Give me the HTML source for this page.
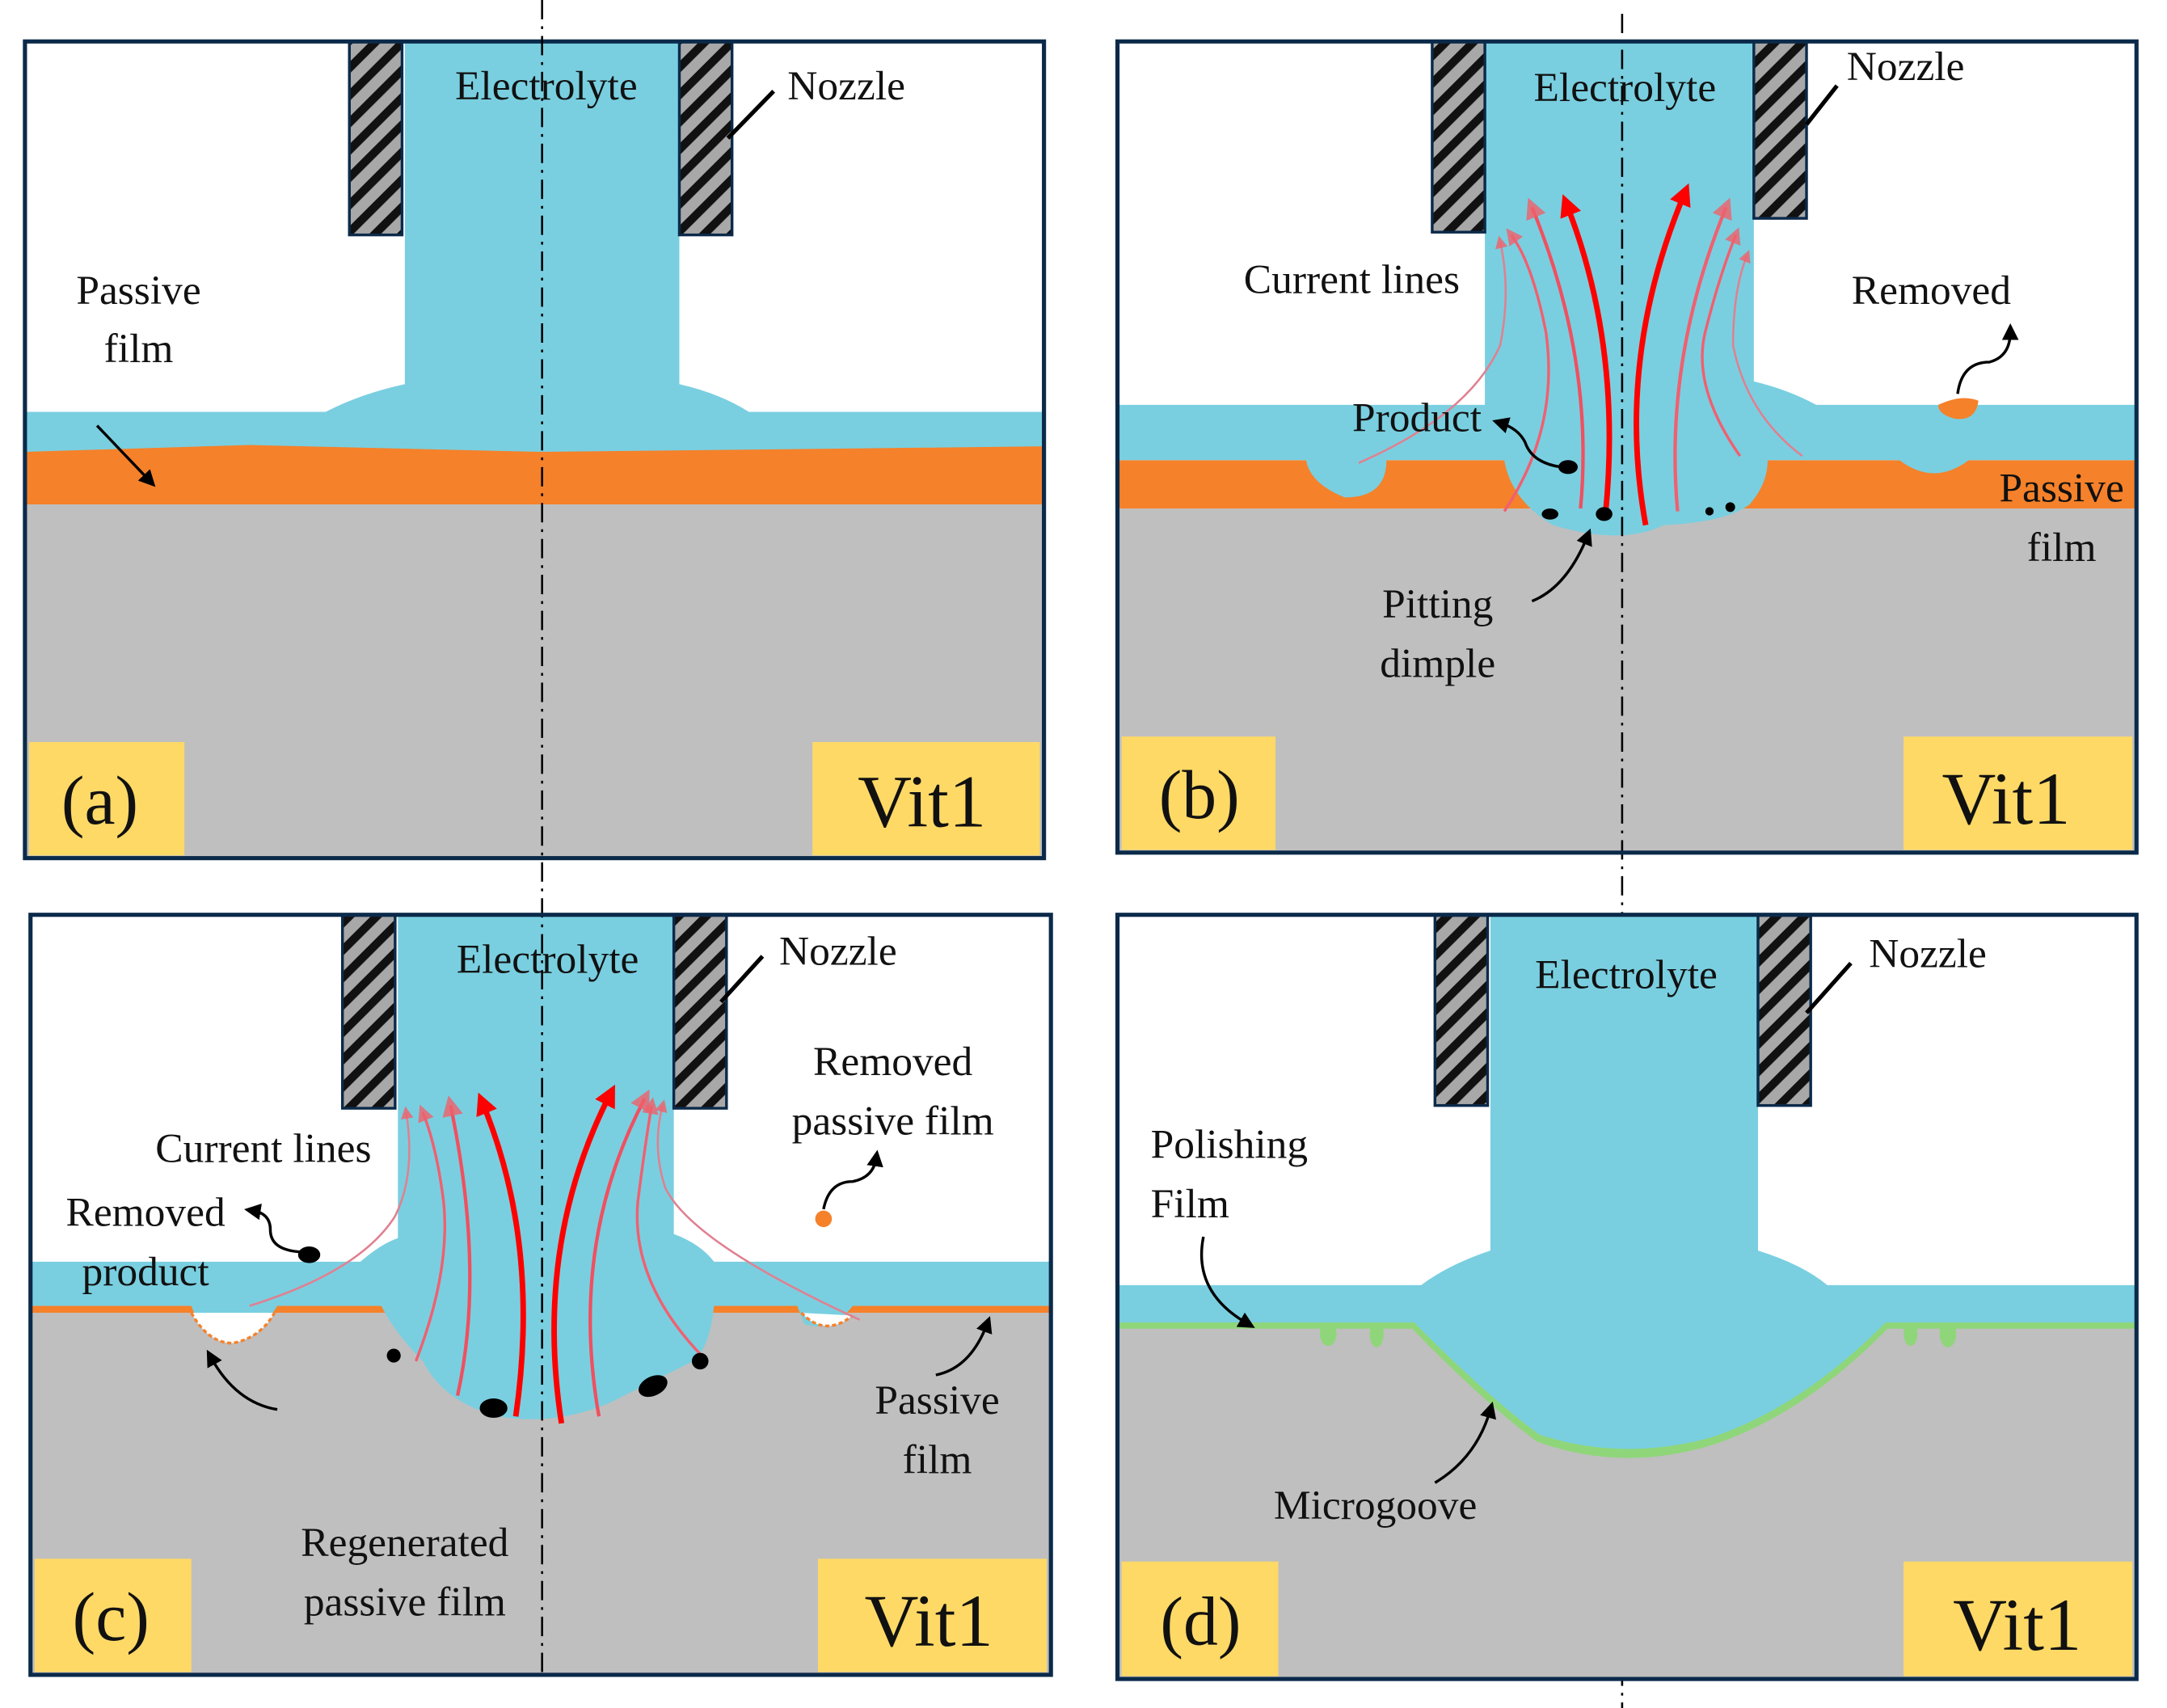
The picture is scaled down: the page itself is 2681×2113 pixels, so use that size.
<!DOCTYPE html>
<html><head><meta charset="utf-8"><style>
html,body{margin:0;padding:0;background:#fff}
svg{display:block}
text{font-family:"Liberation Serif","DejaVu Serif",serif;fill:#111}
</style></head><body>
<svg width="2681" height="2113" viewBox="0 0 1563 1236" preserveAspectRatio="none" xmlns="http://www.w3.org/2000/svg" font-family="'Liberation Serif', 'DejaVu Serif', serif">
<defs>
<pattern id="h" patternUnits="userSpaceOnUse" width="14" height="14" patternTransform="rotate(-45)">
<rect width="14" height="14" fill="#a8a8a8"/><rect width="14" height="6" fill="#111"/>
</pattern>
<marker id="ar" viewBox="0 0 10 10" refX="5" refY="5" markerWidth="4" markerHeight="4" orient="auto"><path d="M0,0L10,5L0,10z" fill="#f00"/></marker>
<marker id="ap" viewBox="0 0 10 10" refX="5" refY="5" markerWidth="6" markerHeight="6" orient="auto"><path d="M0,0L10,5L0,10z" fill="#f0606a" opacity="0.8"/></marker>
<marker id="ak" viewBox="0 0 10 10" refX="5" refY="5" markerWidth="6" markerHeight="6" orient="auto"><path d="M0,0L10,5L0,10z" fill="#000"/></marker>
</defs>
<rect width="1563" height="1236" fill="#fff"/>

<!-- Panel a -->
<g>
<rect x="18" y="30" width="735" height="591" fill="#fff"/>
<rect x="18" y="365" width="735" height="256" fill="#bfbfbf"/>
<path d="M18,320 L180,320 L390,325 L753,321 L753,365 L18,365Z" fill="#f5812a"/>
<path d="M18,298 L235,298 Q260,285 292,278 L292,30 L490,30 L490,278 Q520,285 540,298 L753,298 L753,323 L390,327 L180,322 L18,327Z" fill="#79cfe0"/>
<rect x="252" y="30" width="38" height="140" fill="url(#h)" stroke="#0b2a4a" stroke-width="2"/>
<rect x="490" y="30" width="38" height="140" fill="url(#h)" stroke="#0b2a4a" stroke-width="2"/>
<rect x="18" y="30" width="735" height="591" fill="none" stroke="#0b2a4a" stroke-width="3"/>
<rect x="21" y="537" width="112" height="82" fill="#ffd966"/>
<rect x="586" y="537" width="164" height="82" fill="#ffd966"/>
<text x="72" y="596" font-size="50" text-anchor="middle">(a)</text>
<text x="665" y="598" font-size="54" text-anchor="middle">Vit1</text>
<text x="394" y="72" font-size="30" text-anchor="middle">Electrolyte</text>
<text x="568" y="72" font-size="30">Nozzle</text>
<line x1="525" y1="100" x2="558" y2="66" stroke="#000" stroke-width="3"/>
<text x="100" y="220" font-size="30" text-anchor="middle">Passive</text>
<text x="100" y="262" font-size="30" text-anchor="middle">film</text>
<line x1="70" y1="308" x2="108" y2="348" stroke="#000" stroke-width="2" marker-end="url(#ak)"/>
</g>

<!-- Panel b -->
<g>
<rect x="806" y="368" width="735" height="249" fill="#bfbfbf"/>
<rect x="806" y="333" width="735" height="35" fill="#f5812a"/>
<path d="M806,293 L1071,293 L1071,30 L1265,30 L1265,276 Q1290,282 1310,293 L1541,293 L1541,333 L1420,333 Q1395,352 1370,333 L1275,333 Q1275,350 1262,365 Q1245,378 1200,380 Q1170,395 1120,380 Q1090,362 1085,333 L1000,333 Q1000,360 970,360 Q945,350 942,333 L806,333Z" fill="#79cfe0"/>
<rect x="1033" y="30" width="38" height="138" fill="url(#h)" stroke="#0b2a4a" stroke-width="2"/>
<rect x="1265" y="30" width="38" height="128" fill="url(#h)" stroke="#0b2a4a" stroke-width="2"/>
<g fill="none">
<path d="M980,335 Q1060,300 1082,250 Q1090,210 1082,175" stroke="#e08090" stroke-width="1.5" marker-end="url(#ap)"/>
<path d="M1085,370 Q1125,310 1115,240 Q1105,190 1090,170" stroke="#f06070" stroke-width="2" marker-end="url(#ap)"/>
<path d="M1140,368 Q1150,260 1105,150" stroke="#f05060" stroke-width="2.5" marker-end="url(#ap)"/>
<path d="M1158,372 Q1170,250 1130,148" stroke="#f00" stroke-width="4" marker-end="url(#ar)"/>
<path d="M1187,380 Q1165,260 1215,140" stroke="#f00" stroke-width="4" marker-end="url(#ar)"/>
<path d="M1210,370 Q1200,260 1245,150" stroke="#f06070" stroke-width="2.5" marker-end="url(#ap)"/>
<path d="M1255,330 Q1220,280 1230,240 Q1240,200 1252,170" stroke="#f06070" stroke-width="2" marker-end="url(#ap)"/>
<path d="M1300,330 Q1260,300 1250,250 Q1250,210 1260,185" stroke="#e08090" stroke-width="1.5" marker-end="url(#ap)"/>
</g>
<ellipse cx="1131" cy="338" rx="7" ry="5" fill="#000"/>
<ellipse cx="1118" cy="372" rx="6" ry="4" fill="#000"/>
<ellipse cx="1157" cy="372" rx="6" ry="5" fill="#000"/>
<circle cx="1233" cy="370" r="3" fill="#000"/><circle cx="1248" cy="367" r="3.5" fill="#000"/>
<path d="M1398,293 Q1415,285 1427,290 Q1425,305 1410,303 Q1398,300 1398,293Z" fill="#f5812a"/>
<path d="M1412,285 Q1415,262 1435,262 Q1450,258 1450,240" fill="none" stroke="#000" stroke-width="2" marker-end="url(#ak)"/>
<path d="M1126,338 Q1105,335 1100,320 Q1095,310 1082,306" fill="none" stroke="#000" stroke-width="2" marker-end="url(#ak)"/>
<path d="M1105,435 Q1130,425 1145,388" fill="none" stroke="#000" stroke-width="2" marker-end="url(#ak)"/>
<line x1="1170" y1="10" x2="1170" y2="1236" stroke="#000" stroke-width="1.5" stroke-dasharray="14,5,2,5"/>
<rect x="806" y="30" width="735" height="587" fill="none" stroke="#0b2a4a" stroke-width="3"/>
<rect x="809" y="533" width="111" height="82" fill="#ffd966"/>
<rect x="1373" y="533" width="165" height="82" fill="#ffd966"/>
<text x="865" y="592" font-size="50" text-anchor="middle">(b)</text>
<text x="1447" y="596" font-size="54" text-anchor="middle">Vit1</text>
<text x="1172" y="73" font-size="30" text-anchor="middle">Electrolyte</text>
<text x="1332" y="58" font-size="30">Nozzle</text>
<line x1="1303" y1="90" x2="1325" y2="62" stroke="#000" stroke-width="3"/>
<text x="975" y="212" font-size="30" text-anchor="middle">Current lines</text>
<text x="1393" y="220" font-size="30" text-anchor="middle">Removed</text>
<text x="1022" y="312" font-size="30" text-anchor="middle">Product</text>
<text x="1487" y="363" font-size="30" text-anchor="middle">Passive</text>
<text x="1487" y="406" font-size="30" text-anchor="middle">film</text>
<text x="1037" y="447" font-size="30" text-anchor="middle">Pitting</text>
<text x="1037" y="490" font-size="30" text-anchor="middle">dimple</text>
</g>

<!-- Panel c -->
<g>
<rect x="22" y="950" width="736" height="262" fill="#bfbfbf"/>
<rect x="22" y="945" width="736" height="5" fill="#f5812a"/>
<path d="M22,913 L260,913 Q275,900 287,896 L287,662 L486,662 L486,893 Q505,900 515,913 L758,913 L758,945 L615,945 Q600,965 580,958 L575,945 L515,945 Q512,975 500,985 Q470,1000 440,1015 Q400,1032 360,1025 Q320,1015 305,985 Q285,965 275,945 L200,945 Q185,970 165,972 Q145,965 138,945 L22,945Z" fill="#79cfe0"/>
<path d="M138,950 Q150,972 168,972 Q188,968 198,950" fill="#fff" stroke="#f5812a" stroke-width="2" stroke-dasharray="3,2"/>
<path d="M578,950 Q595,968 615,952" fill="#fff" stroke="#f5812a" stroke-width="2" stroke-dasharray="3,2"/>
<rect x="247" y="662" width="38" height="140" fill="url(#h)" stroke="#0b2a4a" stroke-width="2"/>
<rect x="486" y="662" width="38" height="140" fill="url(#h)" stroke="#0b2a4a" stroke-width="2"/>
<g fill="none">
<path d="M180,945 Q260,920 285,880 Q300,850 293,805" stroke="#e08090" stroke-width="1.5" marker-end="url(#ap)"/>
<path d="M300,985 Q325,920 320,870 Q315,830 305,805" stroke="#f06070" stroke-width="2" marker-end="url(#ap)"/>
<path d="M330,1010 Q350,920 325,800" stroke="#f05060" stroke-width="2.5" marker-end="url(#ap)"/>
<path d="M372,1025 Q390,900 348,798" stroke="#f00" stroke-width="4" marker-end="url(#ar)"/>
<path d="M405,1030 Q385,900 440,792" stroke="#f00" stroke-width="4" marker-end="url(#ar)"/>
<path d="M432,1025 Q410,900 465,795" stroke="#f05060" stroke-width="2.5" marker-end="url(#ap)"/>
<path d="M510,985 Q455,930 460,870 Q465,830 470,800" stroke="#f06070" stroke-width="2" marker-end="url(#ap)"/>
<path d="M620,955 Q500,900 480,860 Q470,830 478,800" stroke="#e08090" stroke-width="1.5" marker-end="url(#ap)"/>
</g>
<ellipse cx="356" cy="1019" rx="10" ry="7" fill="#000"/>
<ellipse cx="471" cy="1003" rx="11" ry="7" transform="rotate(-25 471 1003)" fill="#000"/>
<circle cx="505" cy="985" r="6" fill="#000"/>
<circle cx="284" cy="981" r="5" fill="#000"/>
<ellipse cx="223" cy="908" rx="8" ry="6" fill="#000"/>
<circle cx="594" cy="882" r="6" fill="#f5812a"/>
<path d="M218,906 Q195,905 195,890 Q195,878 182,876" fill="none" stroke="#000" stroke-width="2" marker-end="url(#ak)"/>
<path d="M594,875 Q598,855 615,855 Q630,852 632,838" fill="none" stroke="#000" stroke-width="2" marker-end="url(#ak)"/>
<path d="M200,1020 Q170,1015 152,982" fill="none" stroke="#000" stroke-width="2" marker-end="url(#ak)"/>
<path d="M675,995 Q700,990 712,958" fill="none" stroke="#000" stroke-width="2" marker-end="url(#ak)"/>
<line x1="391" y1="0" x2="391" y2="1210" stroke="#000" stroke-width="1.5" stroke-dasharray="14,5,2,5"/>
<rect x="22" y="662" width="736" height="550" fill="none" stroke="#0b2a4a" stroke-width="3"/>
<rect x="25" y="1128" width="113" height="82" fill="#ffd966"/>
<rect x="590" y="1128" width="165" height="82" fill="#ffd966"/>
<text x="80" y="1187" font-size="50" text-anchor="middle">(c)</text>
<text x="670" y="1191" font-size="54" text-anchor="middle">Vit1</text>
<text x="395" y="704" font-size="30" text-anchor="middle">Electrolyte</text>
<text x="562" y="698" font-size="30">Nozzle</text>
<line x1="520" y1="725" x2="550" y2="692" stroke="#000" stroke-width="3"/>
<text x="644" y="778" font-size="30" text-anchor="middle">Removed</text>
<text x="644" y="821" font-size="30" text-anchor="middle">passive film</text>
<text x="190" y="841" font-size="30" text-anchor="middle">Current lines</text>
<text x="105" y="887" font-size="30" text-anchor="middle">Removed</text>
<text x="105" y="930" font-size="30" text-anchor="middle">product</text>
<text x="676" y="1023" font-size="30" text-anchor="middle">Passive</text>
<text x="676" y="1066" font-size="30" text-anchor="middle">film</text>
<text x="292" y="1126" font-size="30" text-anchor="middle">Regenerated</text>
<text x="292" y="1169" font-size="30" text-anchor="middle">passive film</text>
</g>

<!-- Panel d -->
<g>
<rect x="806" y="960" width="735" height="255" fill="#bfbfbf"/>
<path d="M806,958 L1020,958 Q1070,1010 1110,1040 Q1170,1062 1235,1042 Q1300,1020 1360,958 L1541,958" fill="none" stroke="#8fd67a" stroke-width="7"/>
<ellipse cx="958" cy="965" rx="6" ry="9" fill="#8fd67a"/>
<ellipse cx="993" cy="965" rx="5" ry="10" fill="#8fd67a"/>
<ellipse cx="1378" cy="965" rx="5" ry="9" fill="#8fd67a"/>
<ellipse cx="1405" cy="965" rx="6" ry="10" fill="#8fd67a"/>
<path d="M806,930 L1025,930 Q1045,915 1075,905 L1075,662 L1268,662 L1268,905 Q1300,915 1318,930 L1541,930 L1541,957 L1360,957 Q1300,1018 1235,1040 Q1170,1058 1110,1038 Q1070,1008 1020,957 L806,957Z" fill="#79cfe0"/>
<rect x="1035" y="662" width="38" height="138" fill="url(#h)" stroke="#0b2a4a" stroke-width="2"/>
<rect x="1268" y="662" width="38" height="138" fill="url(#h)" stroke="#0b2a4a" stroke-width="2"/>
<path d="M868,895 Q860,935 900,958" fill="none" stroke="#000" stroke-width="2" marker-end="url(#ak)"/>
<path d="M1035,1073 Q1065,1055 1075,1020" fill="none" stroke="#000" stroke-width="2" marker-end="url(#ak)"/>
<rect x="806" y="662" width="735" height="553" fill="none" stroke="#0b2a4a" stroke-width="3"/>
<rect x="809" y="1130" width="113" height="83" fill="#ffd966"/>
<rect x="1373" y="1130" width="165" height="83" fill="#ffd966"/>
<text x="866" y="1190" font-size="50" text-anchor="middle">(d)</text>
<text x="1455" y="1194" font-size="54" text-anchor="middle">Vit1</text>
<text x="1173" y="715" font-size="30" text-anchor="middle">Electrolyte</text>
<text x="1348" y="700" font-size="30">Nozzle</text>
<line x1="1303" y1="733" x2="1335" y2="697" stroke="#000" stroke-width="3"/>
<text x="830" y="838" font-size="30">Polishing</text>
<text x="830" y="881" font-size="30">Film</text>
<text x="992" y="1099" font-size="30" text-anchor="middle">Microgoove</text>
</g>
</svg>
</body></html>
